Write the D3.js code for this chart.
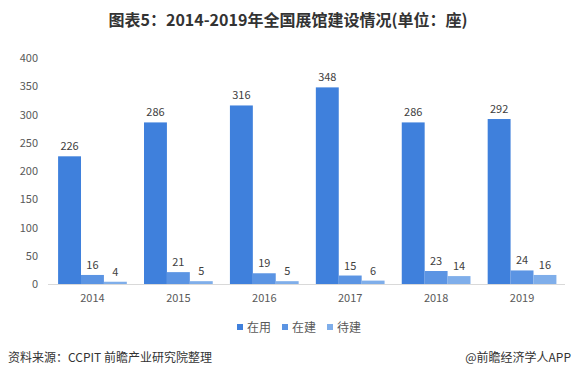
<!DOCTYPE html>
<html><head><meta charset="utf-8">
<script src="https://cdn.jsdelivr.net/npm/d3@7"></script>
<style>body{margin:0;background:#fff}svg{display:block}</style>
</head><body>
<svg id="c" width="577" height="381"></svg>
<script>
const years = ["2014","2015","2016","2017","2018","2019"];
const seriesNames = ["在用","在建","待建"];
const inUse = [226,286,316,348,286,292];
const building = [16,21,19,15,23,24];
const planned = [4,5,5,6,14,16];
const yTicks = [0,50,100,150,200,250,300,350,400];
const colors = ["#3F80DC","#5B94E3","#7FAEEA"];

const svg = d3.select("#c");
const font = "'Microsoft YaHei','Noto Sans CJK SC',sans-serif";

svg.append("text").attr("x",288).attr("y",26).attr("text-anchor","middle")
  .attr("font-family",font).attr("font-weight","bold").attr("font-size",16)
  .attr("fill","#333").text("图表5：2014-2019年全国展馆建设情况(单位：座)");

const x = d3.scaleBand().domain(years).range([49.5,565]).paddingInner(0.2).paddingOuter(0.1);
const xs = d3.scaleBand().domain(seriesNames).range([0,x.bandwidth()]);
const y = d3.scaleLinear().domain([0,400]).range([284,58]);

const data = [inUse,building,planned];

// y labels
svg.append("g").selectAll("text").data(yTicks).join("text")
  .attr("x",38).attr("y",d=>y(d)+4).attr("text-anchor","end")
  .attr("font-family",font).attr("font-size",11).attr("fill","#595959").text(d=>d);

// bars
seriesNames.forEach((s,i)=>{
  const g = svg.append("g");
  g.selectAll("rect").data(years).join("rect")
    .attr("x",d=>x(d)+xs(s)).attr("width",xs.bandwidth())
    .attr("y",(d,j)=>y(data[i][j])).attr("height",(d,j)=>y(0)-y(data[i][j]))
    .attr("fill",colors[i]);
  g.selectAll("text").data(years).join("text")
    .attr("x",d=>x(d)+xs(s)+xs.bandwidth()/2).attr("y",(d,j)=>y(data[i][j])-6)
    .attr("text-anchor","middle").attr("font-family",font).attr("font-size",11)
    .attr("fill","#404040").text((d,j)=>data[i][j]);
});

// axis line
svg.append("line").attr("x1",48).attr("x2",565).attr("y1",y(0)+0.5).attr("y2",y(0)+0.5)
  .attr("stroke","#D9D9D9");

svg.append("g").selectAll("text").data(years).join("text")
  .attr("x",d=>x(d)+x.bandwidth()/2).attr("y",302).attr("text-anchor","middle")
  .attr("font-family",font).attr("font-size",11).attr("fill","#595959").text(d=>d);

// legend
const legX = [237,282,327];
seriesNames.forEach((s,i)=>{
  svg.append("rect").attr("x",legX[i]).attr("y",324).attr("width",6).attr("height",6).attr("fill",colors[i]);
  svg.append("text").attr("x",legX[i]+10).attr("y",331.5).attr("font-family",font)
    .attr("font-size",12).attr("fill","#595959").text(s);
});

svg.append("text").attr("x",8).attr("y",362).attr("font-family",font).attr("font-size",12)
  .attr("fill","#333").text("资料来源：CCPIT 前瞻产业研究院整理");
svg.append("text").attr("x",571).attr("y",362).attr("text-anchor","end").attr("font-family",font)
  .attr("font-size",12).attr("fill","#333").text("@前瞻经济学人APP");
</script>
</body></html>
